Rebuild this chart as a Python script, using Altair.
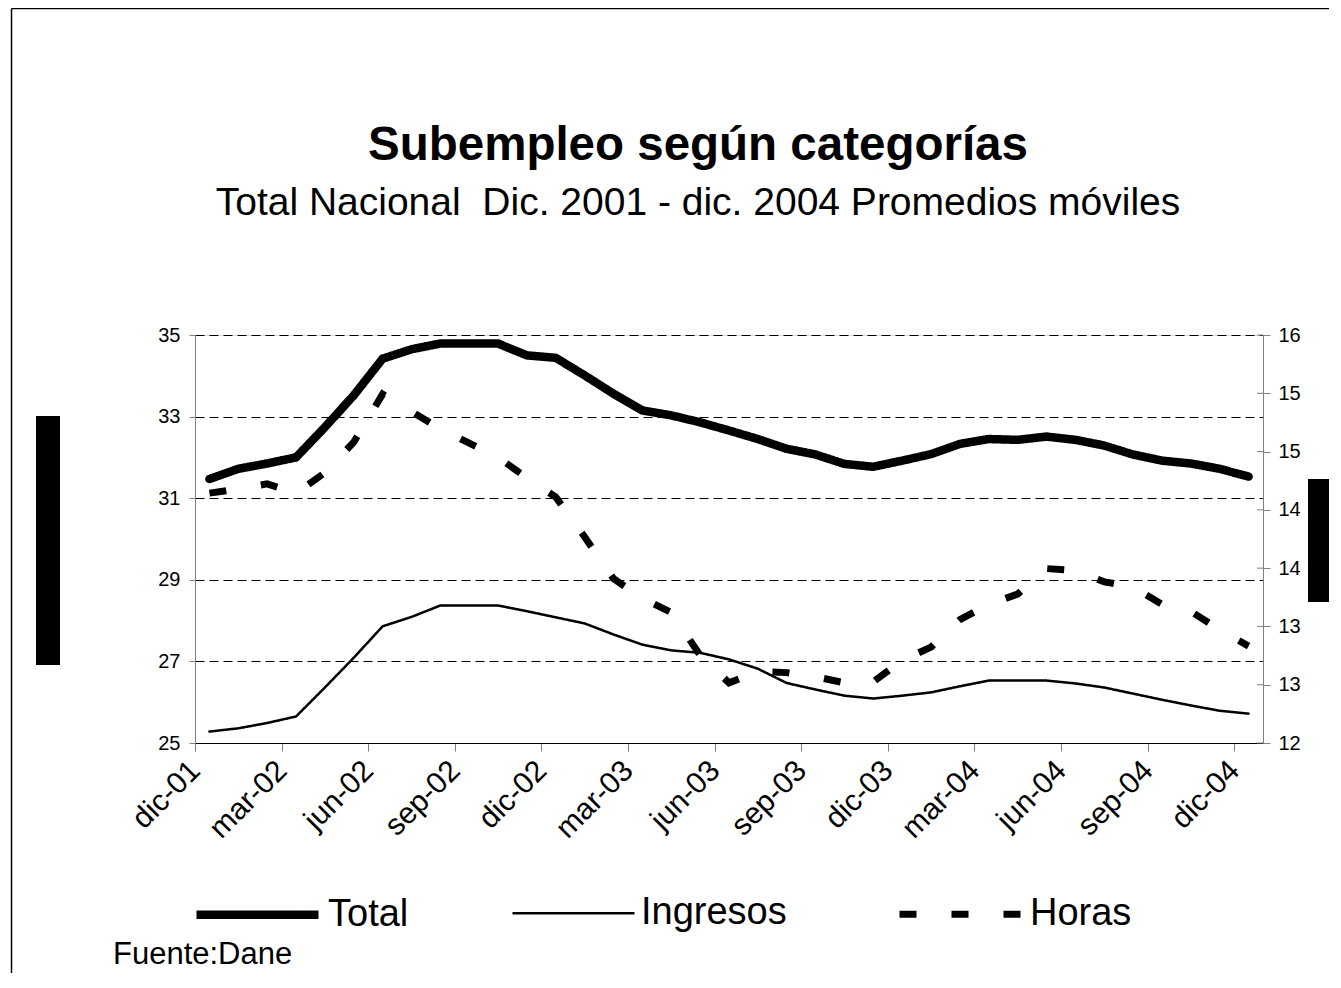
import altair as alt
import pandas as pd

meses = ["dic-01", "ene-02", "feb-02", "mar-02", "abr-02", "may-02", "jun-02", "jul-02",
         "ago-02", "sep-02", "oct-02", "nov-02", "dic-02", "ene-03", "feb-03", "mar-03",
         "abr-03", "may-03", "jun-03", "jul-03", "ago-03", "sep-03", "oct-03", "nov-03",
         "dic-03", "ene-04", "feb-04", "mar-04", "abr-04", "may-04", "jun-04", "jul-04",
         "ago-04", "sep-04", "oct-04", "nov-04", "dic-04"]

total = [31.47, 31.72, 31.85, 32.00, 32.74, 33.52, 34.42, 34.65, 34.79, 34.79,
         34.79, 34.50, 34.44, 34.01, 33.56, 33.15, 33.03, 32.86, 32.66, 32.45,
         32.21, 32.07, 31.84, 31.77, 31.92, 32.08, 32.33, 32.45, 32.43, 32.51,
         32.43, 32.29, 32.07, 31.92, 31.85, 31.72, 31.53]

ingresos = [25.28, 25.36, 25.49, 25.65, 26.36, 27.09, 27.86, 28.09, 28.37, 28.37,
            28.37, 28.23, 28.08, 27.93, 27.66, 27.41, 27.27, 27.21, 27.05, 26.82,
            26.47, 26.31, 26.16, 26.09, 26.16, 26.24, 26.39, 26.53, 26.53, 26.53,
            26.46, 26.36, 26.21, 26.06, 25.92, 25.79, 25.72]

horas = [14.45, 14.49, 14.54, 14.45, 14.65, 14.95, 15.42, 15.25, 15.08, 14.94,
         14.80, 14.60, 14.41, 14.02, 13.61, 13.42, 13.28, 12.86, 12.59, 12.70,
         12.69, 12.65, 12.59, 12.60, 12.81, 12.94, 13.21, 13.36, 13.46, 13.71,
         13.69, 13.58, 13.53, 13.36, 13.29, 13.11, 12.95]

series = ["Total", "Ingresos", "Horas"]
ticks_izq = [25, 27, 29, 31, 33, 35]
ticks_der = [12.0, 12.5714, 13.1429, 13.7143, 14.2857, 14.8571, 15.4286, 16.0]
etiquetas_x = meses[::3]

titulo = "Subempleo según categorías"
subtitulo = "Total Nacional\u00a0 Dic. 2001 - dic. 2004 Promedios móviles"
fuente = "Fuente:Dane"

FONT = "Liberation Sans"
W, H = 1068, 408
step = W / len(meses)

izq = pd.DataFrame({
    "mes": meses * 2,
    "serie": ["Total"] * len(meses) + ["Ingresos"] * len(meses),
    "valor": total + ingresos,
})
der = pd.DataFrame({"mes": meses, "serie": ["Horas"] * len(meses), "valor": horas})
marcas_der = pd.DataFrame({"valor": ticks_der})
deco = pd.DataFrame({"k": [0]})

leyenda = alt.Legend(
    title=None, orient="none", legendX=-3, legendY=514, direction="horizontal",
    symbolType="stroke", symbolSize=14884, symbolStrokeColor="black",
    labelFontSize=38, labelFont=FONT, labelColor="black", labelOffset=5,
    columnPadding=98, labelLimit=0, padding=0,
)

sw = alt.StrokeWidth(
    "serie:N", scale=alt.Scale(type="ordinal", domain=series, range=[8.5, 2.5, 7]), legend=leyenda
)
sd = alt.StrokeDash(
    "serie:N", scale=alt.Scale(type="ordinal", domain=series, range=[[1, 0], [1, 0], [17, 35]]),
    legend=leyenda,
)

x = alt.X(
    "mes:O", sort=meses, scale=alt.Scale(type="point", padding=0.5),
    axis=alt.Axis(
        values=etiquetas_x, title=None, labelAngle=315, labelAlign="right", labelBaseline="top",
        labelFontSize=30, labelFont=FONT, labelColor="black",
        tickOffset=-step / 2, labelOffset=step / 2 - 25, tickSize=8, tickColor="#808080",
        domainColor="black", labelPadding=4, grid=False,
    ),
)

y_izq = alt.Y(
    "valor:Q", scale=alt.Scale(domain=[25, 35], nice=False, zero=False),
    axis=alt.Axis(
        values=ticks_izq, title=None, orient="left", grid=True, gridColor="black",
        gridDash=[9, 5], gridWidth=1, gridOpacity=1, tickSize=6, labelPadding=9,
        labelFontSize=20, labelFont=FONT, labelColor="black",
        domainColor="#808080", tickColor="#808080",
    ),
)
y_der = alt.Y(
    "valor:Q", scale=alt.Scale(domain=[12, 16], nice=False, zero=False),
    axis=alt.Axis(
        values=ticks_der, format=".0f", title=None, orient="right", grid=False,
        tickSize=7, labelPadding=8, labelFontSize=20, labelFont=FONT, labelColor="black",
        domainColor="#808080", tickColor="#808080",
    ),
)

capa_izq = alt.Chart(izq).mark_line(color="black", strokeCap="round").encode(
    x=x, y=y_izq, strokeWidth=sw, strokeDash=sd
)
linea_der = alt.Chart(der).mark_line(color="black", strokeCap="butt").encode(
    x=x, y=y_der, strokeWidth=sw, strokeDash=sd
)
# inner half of the crossing tick marks on the right axis
ticks_internos = alt.Chart(marcas_der).mark_rule(color="#808080", strokeWidth=1).encode(
    x=alt.value(W - 6), x2=alt.value(W), y=y_der
)
capa_der = alt.layer(linea_der, ticks_internos)

caja_izq = alt.Chart(deco).mark_rect(color="black").encode(
    x=alt.value(-159), x2=alt.value(-135), y=alt.value(81), y2=alt.value(330)
)
caja_der = alt.Chart(deco).mark_rect(color="black").encode(
    x=alt.value(1113), x2=alt.value(1137), y=alt.value(144), y2=alt.value(267)
)
borde_izq = alt.Chart(deco).mark_rule(color="black", strokeWidth=1.5).encode(
    x=alt.value(-183.5), y=alt.value(-326.5), y2=alt.value(640)
)
borde_sup = alt.Chart(deco).mark_rule(color="black", strokeWidth=1.5).encode(
    x=alt.value(-183.5), x2=alt.value(1140), y=alt.value(-326.5)
)
texto_fuente = alt.Chart(deco).mark_text(
    text=fuente, align="left", baseline="alphabetic", fontSize=31, font=FONT, color="black"
).encode(x=alt.value(-82), y=alt.value(629))

chart = alt.layer(
    capa_izq, capa_der, caja_izq, caja_der, borde_izq, borde_sup, texto_fuente
).resolve_scale(y="independent").properties(
    width=W, height=H,
    autosize=alt.AutoSizeParams(type="none"),
    padding={"left": 187, "top": 327, "right": 66, "bottom": 230},
    title=alt.TitleParams(
        text=titulo, subtitle=subtitulo, fontSize=47.5, font=FONT, fontWeight="bold", color="black",
        subtitleFontSize=39, subtitleFont=FONT, subtitleColor="black", subtitlePadding=14,
        anchor="middle", frame="group", dx=-31, offset=0, dy=215,
    ),
).configure_view(stroke=None).configure(background="white")

chart.save("out.html", embed_options={"renderer": "svg", "actions": False})
